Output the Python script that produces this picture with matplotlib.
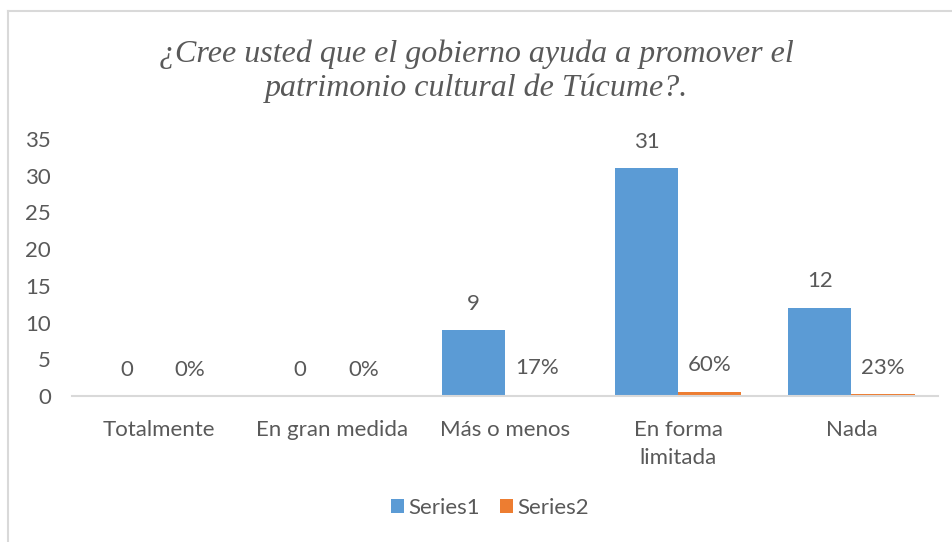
import matplotlib
matplotlib.use("Agg")
import matplotlib.pyplot as plt
import numpy as np
from matplotlib.lines import Line2D
from matplotlib.patches import Patch

categories = ["Totalmente", "En gran medida", "Más o menos", "En forma\nlimitada", "Nada"]
series1 = [0, 0, 9, 31, 12]
series2 = [0.0, 0.0, 0.17, 0.60, 0.23]
series1_labels = ["0", "0", "9", "31", "12"]
series2_labels = ["0%", "0%", "17%", "60%", "23%"]
yticks = [0, 5, 10, 15, 20, 25, 30, 35]
title = "¿Cree usted que el gobierno ayuda a promover el\npatrimonio cultural de Túcume?."

blue = "#5B9BD5"
orange = "#ED7D31"
txt = "#595959"
sans = ["Lato", "DejaVu Sans"]
fs = 16

fig = plt.figure(figsize=(9.53, 5.42), dpi=100)
W, H = 953, 542
ax = fig.add_axes([72 / W, 1 - 396 / H, (938 - 72) / W, (396 - 139) / H])

x = np.arange(len(categories))
bw = 0.365
ax.bar(x - bw / 2, series1, bw, color=blue, label="Series1")
ax.bar(x + bw / 2, series2, bw, color=orange, label="Series2")

for xi, v, lab in zip(x - bw / 2, series1, series1_labels):
    ax.annotate(lab, (xi, v), xytext=(0, 19), textcoords="offset points",
                ha="center", va="center", fontsize=fs, color=txt, family=sans)
for xi, v, lab in zip(x + bw / 2, series2, series2_labels):
    ax.annotate(lab, (xi, v), xytext=(0, 19), textcoords="offset points",
                ha="center", va="center", fontsize=fs, color=txt, family=sans)

ax.set_xlim(-0.5, len(categories) - 0.5)
ax.set_ylim(0, 35)
ax.set_yticks(yticks)
ax.set_yticklabels([str(t) for t in yticks], family=sans, fontsize=fs, color=txt)
ax.set_xticks(x)
ax.set_xticklabels(categories, family=sans, fontsize=fs, color=txt, linespacing=1.55)
ax.tick_params(axis="both", length=0)
ax.tick_params(axis="y", pad=15)
ax.tick_params(axis="x", pad=17)
for s in ["top", "right", "left"]:
    ax.spines[s].set_visible(False)
ax.spines["bottom"].set_color("#d9d9d9")
ax.spines["bottom"].set_linewidth(1.5)

fig.text(0.5, 1 - 71 / H, title, ha="center", va="center", fontsize=23,
         style="italic", family=["Liberation Serif", "DejaVu Serif"], color=txt,
         linespacing=1.22)

handles = [Patch(facecolor=blue), Patch(facecolor=orange)]
fig.legend(handles, ["Series1", "Series2"], loc="center", bbox_to_anchor=(490 / W, 1 - 508 / H),
           ncol=2, frameon=False, prop={"family": sans, "size": fs}, labelcolor=txt,
           handlelength=0.6, handleheight=0.6, handletextpad=0.2, columnspacing=0.9)

# chart frame
fig.add_artist(Line2D([8 / W, 8 / W], [0, 1 - 11 / H], color="#d9d9d9", lw=1.5, transform=fig.transFigure))
fig.add_artist(Line2D([8 / W, 1], [1 - 11 / H, 1 - 11 / H], color="#d9d9d9", lw=1.5, transform=fig.transFigure))

fig.savefig("out.png", dpi=100)
